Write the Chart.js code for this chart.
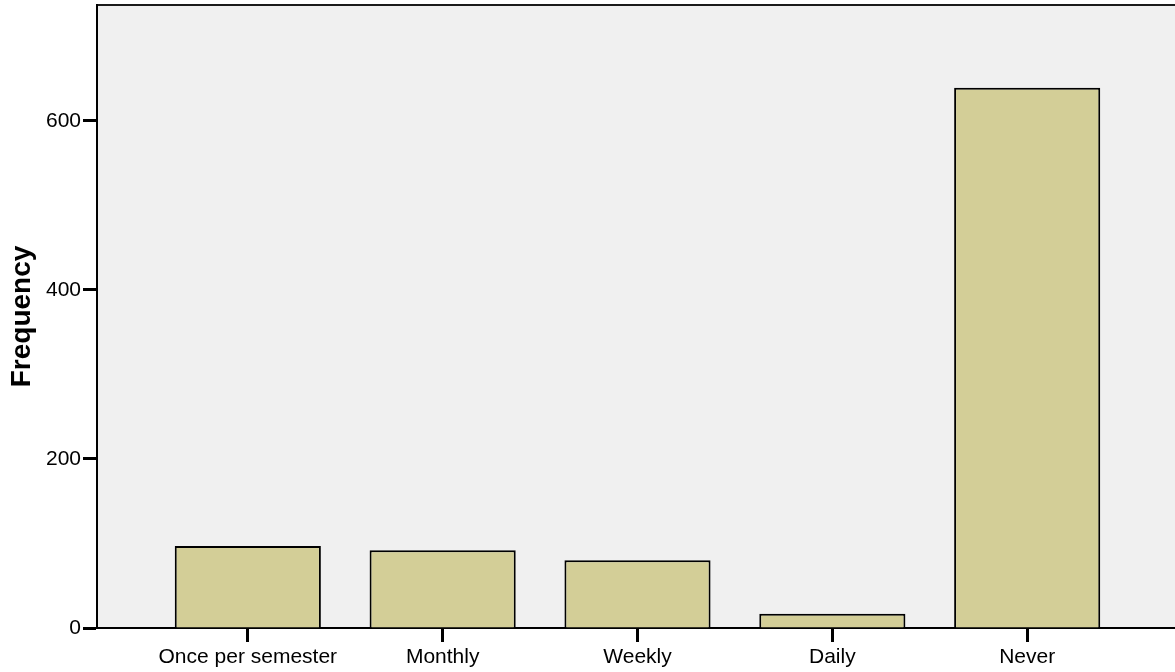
<!DOCTYPE html>
<html>
<head>
<meta charset="utf-8">
<script src="https://cdn.jsdelivr.net/npm/chart.js@4"></script>
<style>
  html, body { margin: 0; padding: 0; background: #fff; overflow: hidden; }
  #wrap { width: 1180px; height: 672px; }
</style>
</head>
<body>
<div id="wrap"><canvas id="freqChart" width="1180" height="672"></canvas></div>
<script>
const categories = ['Once per semester', 'Monthly', 'Weekly', 'Daily', 'Never'];
const frequency = [97, 92, 80, 17, 639];
const yTicks = [0, 200, 400, 600];
const yMax = 737;

Chart.defaults.font.family = '"Liberation Sans", Arial, sans-serif';
Chart.defaults.color = '#000';

// grey plot background with a dark top edge
const plotFrame = {
    id: 'plotFrame',
    beforeDraw(chart) {
        const a = chart.chartArea;
        const c = chart.ctx;
        c.save();
        c.fillStyle = '#f0f0f0';
        c.fillRect(a.left, a.top, a.right - a.left, a.bottom - a.top);
        c.strokeStyle = '#1a1a1a';
        c.lineWidth = 2;
        c.beginPath();
        c.moveTo(a.left, a.top);
        c.lineTo(chart.width, a.top);
        c.stroke();
        c.restore();
    }
};

const ctx = document.getElementById('freqChart').getContext('2d');

const freqChart = new Chart(ctx, {
    type: 'bar',
    data: {
        datasets: [{
            label: 'Frequency',
            data: frequency.map((v, i) => ({ x: i + 1, y: v })),
            backgroundColor: '#d3ce97',
            borderColor: '#000',
            borderWidth: 2,
            barPercentage: 0.75,
            categoryPercentage: 1
        }]
    },
    options: {
        responsive: false,
        animation: false,
        layout: { padding: { top: 5, right: 2, left: 0, bottom: 0 } },
        plugins: {
            legend: { display: false },
            tooltip: { enabled: false }
        },
        scales: {
            x: {
                type: 'linear',
                offset: false,
                min: 1 - 0.774,
                max: categories.length + 0.774,
                afterBuildTicks: (scale) => {
                    scale.ticks = categories.map((c, i) => ({ value: i + 1 }));
                },
                afterFit: (scale) => {
                    scale.height = 44;
                    scale.paddingLeft = 0;
                    scale.paddingRight = 0;
                },
                ticks: {
                    autoSkip: false,
                    maxRotation: 0,
                    padding: 3,
                    font: { size: 21 },
                    callback: (v) => categories[v - 1]
                },
                grid: {
                    offset: false,
                    drawOnChartArea: false,
                    tickLength: 14,
                    tickWidth: 3,
                    tickColor: '#000'
                },
                border: { color: '#000', width: 2 }
            },
            y: {
                min: 0,
                max: yMax,
                afterBuildTicks: (scale) => {
                    scale.ticks = yTicks.map(v => ({ value: v }));
                },
                afterFit: (scale) => {
                    scale.width = 97;
                    scale.paddingTop = 0;
                    scale.paddingBottom = 0;
                },
                title: {
                    display: true,
                    text: 'Frequency',
                    font: { size: 28, weight: 'bold' },
                    padding: { top: 5, bottom: 0 }
                },
                ticks: {
                    padding: 2,
                    font: { size: 21 }
                },
                grid: {
                    drawOnChartArea: false,
                    tickLength: 14,
                    tickWidth: 3,
                    tickColor: '#000'
                },
                border: { color: '#000', width: 2 }
            }
        }
    },
    plugins: [plotFrame]
});
</script>
</body>
</html>
